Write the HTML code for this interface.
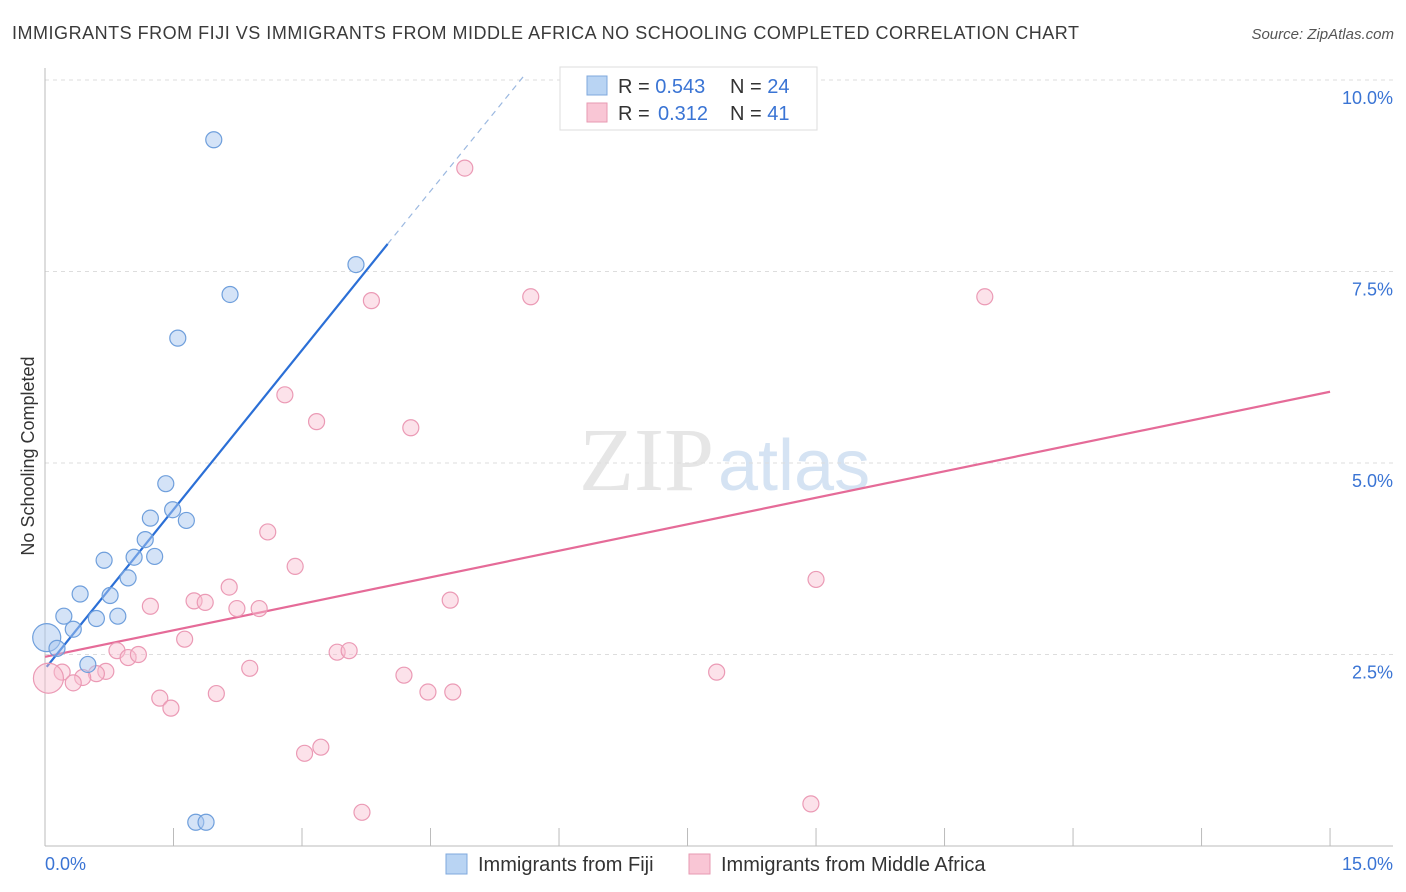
<!DOCTYPE html>
<html><head><meta charset="utf-8"><style>
body{margin:0;background:#fff;font-family:"Liberation Sans",sans-serif;}
svg{display:block}
</style></head><body>
<svg width="1406" height="892" id="chart">
<text x="12" y="39" font-size="18" fill="#3a3a3a" textLength="1067">IMMIGRANTS FROM FIJI VS IMMIGRANTS FROM MIDDLE AFRICA NO SCHOOLING COMPLETED CORRELATION CHART</text>
<text x="1394" y="39" font-size="15" fill="#555" font-style="italic" text-anchor="end">Source: ZipAtlas.com</text>
<text x="34" y="456" font-size="18" fill="#333" text-anchor="middle" transform="rotate(-90 34 456)">No Schooling Completed</text>
<text x="714" y="490" font-size="90" fill="#e6e6e6" text-anchor="end" font-family="Liberation Serif,serif">ZIP</text>
<text x="718" y="490" font-size="72" fill="#d5e3f3">atlas</text>
<g id="grid"></g><g id="axes"></g><g id="trend"></g><g id="points"></g>
<g>
<rect x="560" y="67" width="257" height="63" fill="#fff" stroke="#ddd"/>
<rect x="587" y="76" width="20" height="19" fill="#b9d4f3" stroke="#7fa8dc"/>
<rect x="587" y="103" width="20" height="19" fill="#f9c6d5" stroke="#e79ab2"/>
<text x="618" y="93" font-size="20" fill="#333">R = <tspan fill="#3a74d4">0.543</tspan><tspan x="730">N = </tspan><tspan fill="#3a74d4">24</tspan></text>
<text x="618" y="120" font-size="20" fill="#333">R = <tspan x="658" fill="#3a74d4">0.312</tspan><tspan x="730">N = </tspan><tspan fill="#3a74d4">41</tspan></text>
</g>
<g>
<rect x="446" y="854" width="21" height="20" fill="#b9d4f3" stroke="#7fa8dc"/>
<text x="478" y="871" font-size="20" fill="#333">Immigrants from Fiji</text>
<rect x="689" y="854" width="21" height="20" fill="#f9c6d5" stroke="#e79ab2"/>
<text x="721" y="871" font-size="20" fill="#333">Immigrants from Middle Africa</text>
</g>
</svg>
<script>
const yTicks=[2.5,5.0,7.5,10.0];
const xTickVals=[0,1.5,3,4.5,6,7.5,9,10.5,12,13.5,15];
const fijiX=[1.97,3.63,2.16,1.55,1.41,1.49,1.65,1.23,1.17,0.69,1.04,1.28,0.97,0.41,0.76,0.22,0.6,0.85,0.33,0.02,0.14,0.5,1.76,1.88];
const fijiY=[9.22,7.59,7.2,6.63,4.73,4.39,4.25,4.28,4.0,3.73,3.77,3.78,3.5,3.29,3.27,3.0,2.97,3.0,2.83,2.72,2.58,2.37,0.31,0.31];
const afX=[4.9,3.81,5.67,10.97,2.8,3.17,4.27,2.6,2.92,9.0,2.15,1.23,1.74,1.87,2.24,2.5,4.73,1.63,0.84,0.97,1.09,3.41,3.55,2.39,0.71,0.6,0.44,0.2,0.33,0.04,4.19,7.84,1.34,1.47,2.0,4.47,4.76,3.22,3.03,3.7,8.94];
const afY=[8.85,7.12,7.17,7.17,5.89,5.54,5.46,4.1,3.65,3.48,3.38,3.13,3.2,3.18,3.1,3.1,3.21,2.7,2.55,2.46,2.5,2.53,2.55,2.32,2.28,2.25,2.2,2.27,2.13,2.19,2.23,2.27,1.93,1.8,1.99,2.01,2.01,1.29,1.21,0.44,0.55];
const fijiTrend=[[0.02,2.34],[4.0,7.86]];
const fijiDash=[[4.0,7.86],[5.58,10.04]];
const afTrend=[[0,2.47],[15,5.93]];
const NS="http://www.w3.org/2000/svg";
const xs=v=>45+v*85.67, ys=v=>846-v*76.6;
function mk(p,t,a){const e=document.createElementNS(NS,t);for(const k in a)e.setAttribute(k,a[k]);p.appendChild(e);return e;}
const grid=document.getElementById('grid'),axes=document.getElementById('axes');
yTicks.forEach(t=>{
 const l=mk(grid,'line',{x1:45,x2:1393,y1:ys(t),y2:ys(t),stroke:'#ddd','stroke-dasharray':'4 4'});
 
 
 const tx=mk(axes,'text',{x:1393,y:ys(t)+24,'font-size':18,fill:'#3a74d4','text-anchor':'end'});tx.textContent=t.toFixed(1)+'%';
 
 
});
mk(axes,'line',{x1:45,x2:45,y1:68,y2:846,stroke:'#bbb'});
mk(axes,'line',{x1:45,x2:1393,y1:846,y2:846,stroke:'#bbb'});
xTickVals.forEach(t=>{const l=mk(axes,'line',{x1:xs(t),x2:xs(t),y1:828,y2:846,stroke:'#bbb'});
 
 });
let a=mk(axes,'text',{x:45,y:870,'font-size':18,fill:'#3a74d4'});a.textContent='0.0%';


a=mk(axes,'text',{x:1393,y:870,'font-size':18,fill:'#3a74d4','text-anchor':'end'});a.textContent='15.0%';


const tr=document.getElementById('trend');
let l=mk(tr,'line',{x1:xs(afTrend[0][0]),y1:ys(afTrend[0][1]),x2:xs(afTrend[1][0]),y2:ys(afTrend[1][1]),stroke:'#e56b98','stroke-width':2.2});


l=mk(tr,'line',{x1:xs(fijiTrend[0][0]),y1:ys(fijiTrend[0][1]),x2:xs(fijiTrend[1][0]),y2:ys(fijiTrend[1][1]),stroke:'#2b6fd6','stroke-width':2.2});


l=mk(tr,'line',{x1:xs(fijiDash[0][0]),y1:ys(fijiDash[0][1]),x2:xs(fijiDash[1][0]),y2:ys(fijiDash[1][1]),stroke:'#9bb8e0','stroke-width':1.2,'stroke-dasharray':'6 5'});


const pts=document.getElementById('points');
afX.forEach((x,i)=>{const r=(x<0.1)?15:8;
 const c=mk(pts,'circle',{cx:xs(x),cy:ys(afY[i]),r:r,fill:'rgba(248,190,208,0.45)',stroke:'#eb9ab5','stroke-width':1.2});
 
 });
fijiX.forEach((x,i)=>{const r=(x<0.05)?14:8;
 const c=mk(pts,'circle',{cx:xs(x),cy:ys(fijiY[i]),r:r,fill:'rgba(170,200,240,0.5)',stroke:'#6f9fdc','stroke-width':1.2});
 
 });
</script>
</body></html>
